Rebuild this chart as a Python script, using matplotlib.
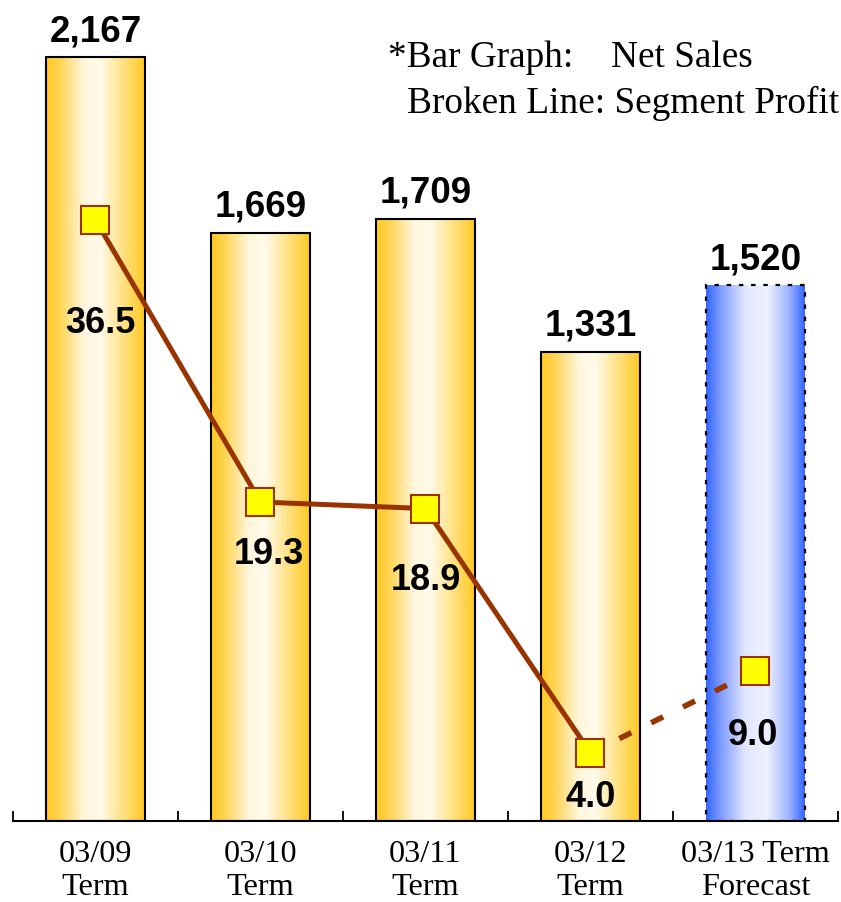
import matplotlib.pyplot as plt
import numpy as np
from matplotlib.colors import LinearSegmentedColormap

# net sales (bars) and segment profit (line) per term
terms = ["03/09\nTerm", "03/10\nTerm", "03/11\nTerm", "03/12\nTerm", "03/13 Term\nForecast"]
net_sales = [2167, 1669, 1709, 1331, 1520]
segment_profit = [36.5, 19.3, 18.9, 4.0, 9.0]
is_forecast = [False, False, False, False, True]

# where the profit labels sit relative to their markers (pixels)
profit_label_dx = [5, 8, 0, 0, -3]
profit_label_dy = [-103, -51, -71, -44, -64]

W, H = 841, 903
fig = plt.figure(figsize=(W / 100, H / 100), dpi=100)
ax = fig.add_axes([13 / W, (H - 822) / H, 825 / W, (822 - 20) / H])

gold = LinearSegmentedColormap.from_list("gold", [
    (0.0, "#FFC821"), (0.15, "#FFD65A"), (0.38, "#FFF6DC"), (0.55, "#FFFAEA"),
    (0.8, "#FFDF7A"), (1.0, "#FFC821")])
blue = LinearSegmentedColormap.from_list("blue", [
    (0.0, "#3366FF"), (0.15, "#7F9CFF"), (0.4, "#E2E8FF"), (0.62, "#EEF1FF"),
    (0.84, "#9FB4FF"), (1.0, "#3366FF")])
grad = np.linspace(0, 1, 256).reshape(1, -1)

x = np.arange(len(terms))
bars = ax.bar(x, net_sales, width=0.594, facecolor="none", zorder=3)
for bar, fc in zip(bars, is_forecast):
    bx, bw, bh = bar.get_x(), bar.get_width(), bar.get_height()
    im = ax.imshow(grad, extent=[bx, bx + bw, 0, bh], aspect="auto",
                   cmap=blue if fc else gold, zorder=2)
    im.set_clip_path(bar)
    bar.set_edgecolor("black")
    bar.set_linewidth(1.5)
    if fc:
        bar.set_linestyle((0, (2, 3.5)))
        bar.set_linewidth(1.6)
    ax.annotate(f"{int(bh):,}", (bx + bw / 2, bh), xytext=(0, 6.5),
                textcoords="offset points", ha="center", va="bottom",
                fontsize=26.5, fontweight="bold", family="Liberation Sans")

ax.set_xlim(-0.5, 4.5)
ax.set_ylim(0, 2275)
for s in ("top", "left", "right"):
    ax.spines[s].set_visible(False)
ax.spines["bottom"].set_linewidth(1.5)
ax.set_yticks([])
ax.set_xticks(x)
ax.set_xticklabels(terms, family="Liberation Serif", fontsize=23.2, linespacing=1.17)
ax.tick_params(axis="x", which="major", length=0, pad=13)
ax.set_xticks(np.arange(-0.5, 5, 1), minor=True)
ax.tick_params(axis="x", which="minor", direction="in", length=7, width=1.3)

# segment profit line on its own scale
ax2 = ax.twinx()
ax2.set_ylim(-0.15, 48.75)
ax2.set_yticks([])
for s in ax2.spines.values():
    s.set_visible(False)
line_col = "#993300"
ax2.plot(x[:4], segment_profit[:4], color=line_col, lw=3.6, zorder=3)
ax2.plot(x[3:], segment_profit[3:], color=line_col, lw=4.0,
         linestyle=(0.6, (2.4, 4.0)), zorder=3)
ax2.plot(x, segment_profit, linestyle="none", marker="s", markersize=19.5,
         markerfacecolor="#FFFF00", markeredgecolor=line_col, markeredgewidth=1.5,
         zorder=4)
for xi, v, dx, dy in zip(x, segment_profit, profit_label_dx, profit_label_dy):
    ax2.annotate(f"{v:.1f}", (xi, v), xytext=(dx, dy), textcoords="offset pixels",
                 ha="center", va="center", fontsize=26, fontweight="bold",
                 family="Liberation Sans", zorder=5)

fig.text(388 / W, 1 - 67 / H, "*Bar Graph:", family="Liberation Serif",
         fontsize=26.8, va="baseline")
fig.text(611 / W, 1 - 67 / H, "Net Sales", family="Liberation Serif",
         fontsize=26.8, va="baseline")
fig.text(407 / W, 1 - 113 / H, "Broken Line: Segment Profit",
         family="Liberation Serif", fontsize=26.8, va="baseline")

fig.savefig("out.png", dpi=100)
